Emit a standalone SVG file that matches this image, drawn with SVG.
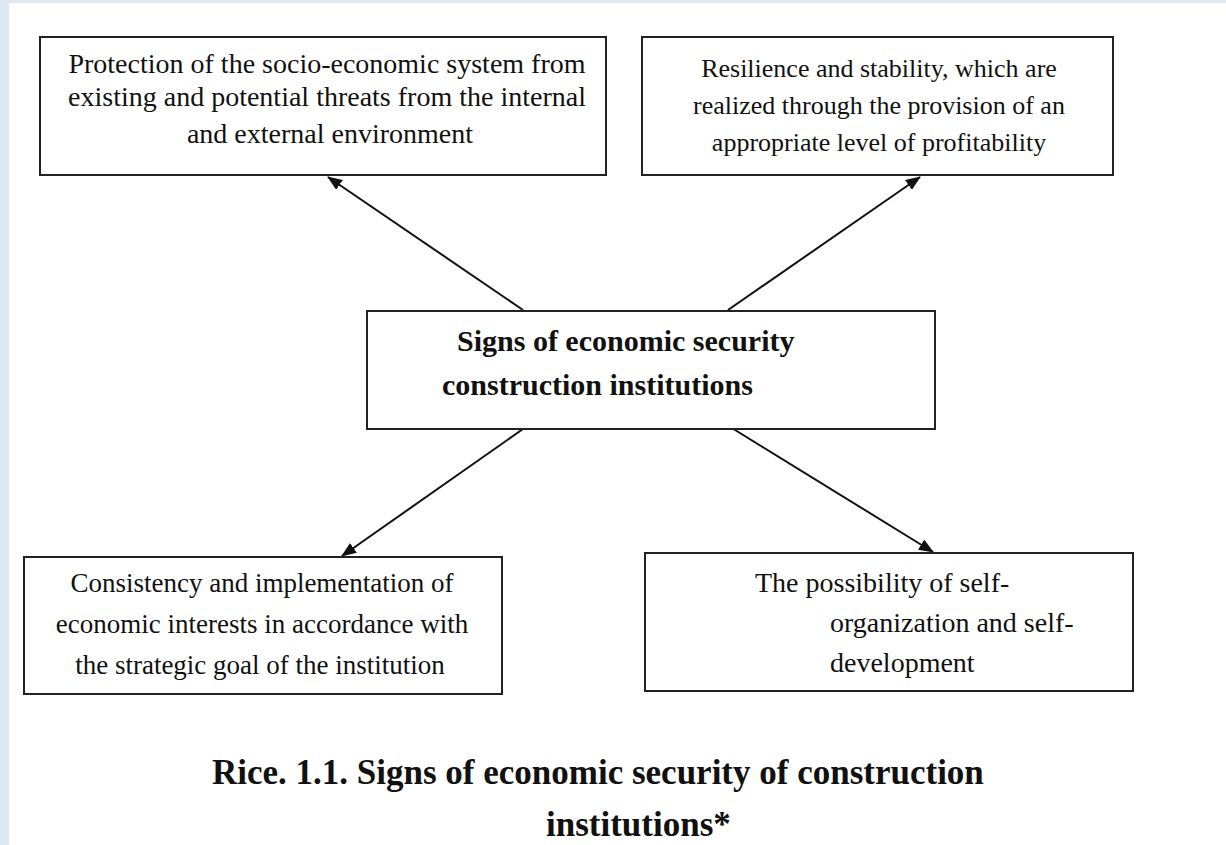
<svg xmlns="http://www.w3.org/2000/svg" width="1226" height="845" viewBox="0 0 1226 845">
<style>
.box{fill:#fff;stroke:#222;stroke-width:2}
.t{font-family:"Liberation Serif","Times New Roman",serif;font-size:27px;fill:#111}
.b{font-family:"Liberation Serif","Times New Roman",serif;font-size:30px;font-weight:bold;fill:#111}
.cap{font-family:"Liberation Serif","Times New Roman",serif;font-size:35px;font-weight:bold;fill:#111}
.c{stroke:#111;stroke-width:2;fill:none;marker-end:url(#ah)}
</style>
<defs>
<marker id="ah" viewBox="0 0 15 12" refX="14" refY="6" markerWidth="15" markerHeight="12" markerUnits="userSpaceOnUse" orient="auto">
<path d="M0,0 L15,6 L0,12 z" fill="#111"/>
</marker>
</defs>
<rect x="0" y="0" width="1226" height="845" fill="#dde8f4"/>
<rect x="9" y="3" width="1217" height="842" fill="#fff"/>
<g id="connectors">
<line class="c" x1="523" y1="310" x2="328" y2="177"/>
<line class="c" x1="728" y1="310" x2="920" y2="177"/>
<line class="c" x1="523" y1="429" x2="342" y2="556"/>
<line class="c" x1="727" y1="425" x2="933" y2="552"/>
</g>
<g id="n-protection">
<rect class="box" x="40" y="37" width="566" height="138"/>
<text class="t" x="327" y="73" text-anchor="middle" style="font-size:28px">Protection of the socio-economic system from</text>
<text class="t" x="327" y="106" text-anchor="middle" style="font-size:28px">existing and potential threats from the internal</text>
<text class="t" x="330" y="143" text-anchor="middle" style="font-size:28px">and external environment</text>
</g>
<g id="n-resilience">
<rect class="box" x="642" y="37" width="471" height="138"/>
<text class="t" x="879" y="77" text-anchor="middle" style="font-size:26px">Resilience and stability, which are</text>
<text class="t" x="879" y="114" text-anchor="middle" style="font-size:26px">realized through the provision of an</text>
<text class="t" x="879" y="151" text-anchor="middle" style="font-size:26px">appropriate level of profitability</text>
</g>
<g id="n-center">
<rect class="box" x="367" y="311" width="568" height="118"/>
<text class="b" x="457" y="351">Signs of economic security</text>
<text class="b" x="442" y="395">construction institutions</text>
</g>
<g id="n-consistency">
<rect class="box" x="24" y="557" width="478" height="137"/>
<text class="t" x="262" y="592" text-anchor="middle">Consistency and implementation of</text>
<text class="t" x="262" y="633" text-anchor="middle">economic interests in accordance with</text>
<text class="t" x="260" y="674" text-anchor="middle">the strategic goal of the institution</text>
</g>
<g id="n-possibility">
<rect class="box" x="645" y="553" width="488" height="138"/>
<text class="t" x="755" y="592" style="font-size:28px">The possibility of self-</text>
<text class="t" x="830" y="632" style="font-size:28px">organization and self-</text>
<text class="t" x="830" y="672" style="font-size:28px">development</text>
</g>
<g id="caption">
<text class="cap" x="212" y="784">Rice. 1.1. Signs of economic security of construction</text>
<text class="cap" x="546" y="836">institutions*</text>
</g>
</svg>
